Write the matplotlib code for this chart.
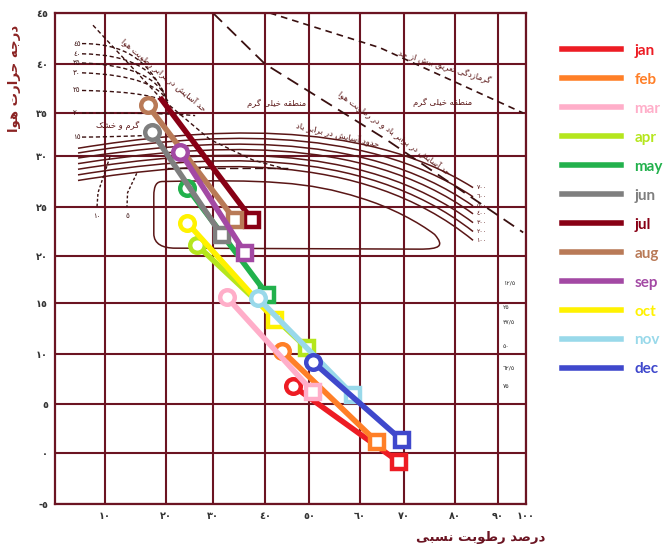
import numpy as np
import matplotlib
matplotlib.use('Agg')
import matplotlib.pyplot as plt
from matplotlib.path import Path
from matplotlib.patches import PathPatch
from matplotlib.lines import Line2D

# ---------------- data ----------------
MONTHS = ['jan', 'feb', 'mar', 'apr', 'may', 'jun', 'jul', 'aug', 'sep', 'oct', 'nov', 'dec']
COLORS = ['#ED1C24', '#FF7F27', '#FFAEC9', '#B5E61D', '#22B14C', '#7F7F7F',
          '#880015', '#B97A57', '#A349A4', '#FFF200', '#99D9EA', '#3F48CC']
RH_START = [46.4, 43.9, 32.7, 26.6, 24.5, 17.7, 19.0, 17.0, 23.0, 24.5, 38.7, 50.8]
T_START = [6.8, 10.3, 15.6, 21.1, 26.9, 32.8, 36.6, 35.8, 30.5, 23.4, 15.5, 9.2]
RH_END = [68.9, 63.9, 50.8, 49.5, 40.5, 31.7, 37.5, 34.2, 36.2, 42.3, 58.6, 69.5]
T_END = [-0.9, 1.1, 6.2, 10.6, 15.9, 22.1, 23.7, 23.7, 20.3, 13.3, 5.9, 1.3]
HAS_START_MARK = [True, True, True, True, True, True, False, True, True, True, True, True]

RH_TICKS = [0, 10, 20, 30, 40, 50, 60, 70, 80, 90, 100]
T_TICKS = [-5, 0, 5, 10, 15, 20, 25, 30, 35, 40, 45]
# the scanned chart grid is not evenly spaced: positions of its grid lines
SCAN_X = [55, 105, 166, 213, 265, 309, 360, 404, 455, 498, 526]
SCAN_Y = [41, 92, 141, 191, 242, 289, 338, 389, 432, 481, 532]

# wind-speed curves (RH, T control points of each curve)
WIND_LABELS = [700, 600, 500, 400, 300, 200, 100]
WIND_RH = [4.6, 27.2, 60.0, 84.2]
WIND_T0 = [30.9, 30.35, 29.8, 29.25, 28.7, 28.15, 27.6]
WIND_T1 = [33.2, 32.6, 31.9, 31.3, 30.7, 30.1, 29.5]
WIND_T2 = [34.6, 34.0, 33.4, 32.8, 32.1, 31.5, 30.9]
WIND_T3 = [26.9, 26.0, 25.1, 24.3, 23.4, 22.5, 21.6]

# solar radiation curves
RAD_LABELS = [45, 40, 35, 30, 25, 20, 15]
RAD_CURVES = [
    [(5.4, 42.0), (13.0, 42.0), (17.0, 40.5), (19.8, 36.8)],
    [(5.4, 41.0), (14.0, 40.9), (18.0, 39.6), (20.0, 36.6)],
    [(5.4, 40.1), (14.6, 39.9), (18.5, 38.6), (20.2, 36.4)],
    [(5.4, 39.1), (15.0, 38.9), (18.8, 37.8), (20.4, 36.2)],
    [(5.4, 37.3), (15.0, 37.2), (18.5, 36.7), (20.6, 36.0)],
    [(5.4, 35.0), (12.0, 35.0), (20.0, 35.0), (26.2, 34.7)],
    [(5.4, 32.2), (9.0, 32.2), (14.0, 32.3), (17.4, 32.4)],
]

COMFORT = [(19.5, 27.5), (40, 27.7), (50, 27.5), (60, 25.9),
           (67, 25.0), (73, 23.4), (76, 22.2),
           (78, 21.0), (77, 20.7), (73, 20.7),
           (22, 20.8),
           (19.5, 20.8), (18, 21.2), (18, 22.3),
           (18, 26.0),
           (18, 27.2), (18.5, 27.5), (19.5, 27.5)]
COMFORT_CODES = [Path.MOVETO, Path.CURVE4, Path.CURVE4, Path.CURVE4,
                 Path.CURVE4, Path.CURVE4, Path.CURVE4,
                 Path.CURVE4, Path.CURVE4, Path.CURVE4,
                 Path.LINETO,
                 Path.CURVE4, Path.CURVE4, Path.CURVE4,
                 Path.LINETO,
                 Path.CURVE4, Path.CURVE4, Path.CURVE4]

LINE_A = [(30, 45), (40, 40), (66, 31.9), (99, 22.4)]
LINE_B = [(41.1, 45), (64.5, 41.6), (99, 35)]
LINE_D = [(7.6, 43.8), (19.0, 36.6), (29.4, 31.9), (37.7, 29.6), (45.7, 28.6)]
LINE_H = [(20.2, 28.8), (45.7, 28.8)]
LINE_10 = [(10.8, 29.9), (8.6, 26.4), (8.4, 25.0)]
LINE_5 = [(15.2, 28.3), (13.7, 26.4), (13.6, 25.0)]
VAPOR_LABELS = ['١٢/٥', '٢٥', '٣٧/٥', '٥٠', '٦٢/٥', '٧٥']
VAPOR_T = [17.1, 14.6, 13.1, 10.7, 8.6, 6.7]

# ---------------- Arabic shaping helper ----------------
AR = {
    'ا': (0xFE8D, 0xFE8E, None, None), 'آ': (0xFE81, 0xFE82, None, None),
    'ب': (0xFE8F, 0xFE90, 0xFE91, 0xFE92), 'پ': (0xFB56, 0xFB57, 0xFB58, 0xFB59),
    'ت': (0xFE95, 0xFE96, 0xFE97, 0xFE98), 'ج': (0xFE9D, 0xFE9E, 0xFE9F, 0xFEA0),
    'ح': (0xFEA1, 0xFEA2, 0xFEA3, 0xFEA4), 'خ': (0xFEA5, 0xFEA6, 0xFEA7, 0xFEA8),
    'د': (0xFEA9, 0xFEAA, None, None), 'ر': (0xFEAD, 0xFEAE, None, None),
    'ز': (0xFEAF, 0xFEB0, None, None), 'س': (0xFEB1, 0xFEB2, 0xFEB3, 0xFEB4),
    'ش': (0xFEB5, 0xFEB6, 0xFEB7, 0xFEB8), 'ص': (0xFEB9, 0xFEBA, 0xFEBB, 0xFEBC),
    'ط': (0xFEC1, 0xFEC2, 0xFEC3, 0xFEC4), 'ع': (0xFEC9, 0xFECA, 0xFECB, 0xFECC),
    'ف': (0xFED1, 0xFED2, 0xFED3, 0xFED4), 'ق': (0xFED5, 0xFED6, 0xFED7, 0xFED8),
    'ک': (0xFB8E, 0xFB8F, 0xFB90, 0xFB91), 'گ': (0xFB92, 0xFB93, 0xFB94, 0xFB95),
    'ل': (0xFEDD, 0xFEDE, 0xFEDF, 0xFEE0), 'م': (0xFEE1, 0xFEE2, 0xFEE3, 0xFEE4),
    'ن': (0xFEE5, 0xFEE6, 0xFEE7, 0xFEE8), 'و': (0xFEED, 0xFEEE, None, None),
    'ه': (0xFEE9, 0xFEEA, 0xFEEB, 0xFEEC), 'ی': (0xFBFC, 0xFBFD, 0xFBFE, 0xFBFF),
}


def shape(text):
    chars = list(text)
    n = len(chars)
    res = []

    def joins_next(c):
        f = AR.get(c)
        return f is not None and f[2] is not None

    i = 0
    while i < n:
        c = chars[i]
        if c == '\u200c':
            i += 1
            continue
        if c not in AR:
            res.append(c)
            i += 1
            continue
        prev = chars[i - 1] if i > 0 else None
        jp = prev is not None and joins_next(prev)
        if c == 'ل' and i + 1 < n and chars[i + 1] in ('ا', 'آ'):
            lig = {'ا': (0xFEFB, 0xFEFC), 'آ': (0xFEF5, 0xFEF6)}[chars[i + 1]]
            res.append(chr(lig[1] if jp else lig[0]))
            i += 2
            continue
        nxt = chars[i + 1] if i + 1 < n else None
        jn = joins_next(c) and nxt in AR
        f = AR[c]
        if jp and jn:
            g = f[3]
        elif jp:
            g = f[1]
        elif jn:
            g = f[2]
        else:
            g = f[0]
        res.append(chr(g))
        i += 1
    return ''.join(reversed(res))


def ar_num(v):
    return str(v).translate(str.maketrans('0123456789', '٠١٢٣٤٥٦٧٨٩'))


# ---------------- figure ----------------
GRID = '#6b1422'
INK = '#5a1616'
W, H = 671, 545
fig = plt.figure(figsize=(W / 100, H / 100), dpi=100)
fig.patch.set_facecolor('white')
ax = fig.add_axes([55 / W, 41 / H, 471 / W, 491 / H])

ax.set_xscale('function', functions=(lambda v: np.interp(v, RH_TICKS, SCAN_X),
                                     lambda p: np.interp(p, SCAN_X, RH_TICKS)))
ax.set_yscale('function', functions=(lambda v: np.interp(v, T_TICKS, SCAN_Y),
                                     lambda p: np.interp(p, SCAN_Y, T_TICKS)))
ax.set_xlim(0, 100)
ax.set_ylim(-5, 45)
ax.set_xticks(RH_TICKS[1:])
ax.set_xticklabels([ar_num(v) for v in RH_TICKS[1:]])
ax.set_yticks(T_TICKS)
ax.set_yticklabels([('-' + ar_num(-v)) if v < 0 else ar_num(v) for v in T_TICKS])
ax.minorticks_off()
ax.tick_params(length=0, pad=5, labelsize=7, labelcolor='#333333')
for lab in ax.get_xticklabels() + ax.get_yticklabels():
    lab.set_fontweight('bold')
ax.grid(True, color=GRID, lw=1.5, zorder=0)
ax.set_axisbelow(True)
for s in ax.spines.values():
    s.set_color(GRID)
    s.set_linewidth(1.6)

# ----- background chart -----
for i in range(len(WIND_LABELS)):
    verts = list(zip(WIND_RH, [WIND_T0[i], WIND_T1[i], WIND_T2[i], WIND_T3[i]]))
    p = Path(verts, [Path.MOVETO, Path.CURVE4, Path.CURVE4, Path.CURVE4])
    ax.add_patch(PathPatch(p, fill=False, ec=INK, lw=1.1, zorder=2))
    ax.text(WIND_RH[-1] + 0.8, WIND_T3[i], ar_num(WIND_LABELS[i]), fontsize=4.5,
            color=INK, va='center', ha='left', zorder=2)

ax.add_patch(PathPatch(Path(COMFORT, COMFORT_CODES), fill=False, ec=INK, lw=1.1, zorder=2))

for lab, verts in zip(RAD_LABELS, RAD_CURVES):
    p = Path(verts, [Path.MOVETO, Path.CURVE4, Path.CURVE4, Path.CURVE4])
    ax.add_patch(PathPatch(p, fill=False, ec='#3a1010', lw=1.0, ls=(0, (3, 2)), zorder=2))
    ax.text(verts[0][0] - 0.3, verts[0][1], ar_num(lab), fontsize=5, color='#3a1010',
            va='center', ha='right', zorder=2)

for pts, dash, lw in [(LINE_A, (0, (7, 4)), 1.3), (LINE_B, (0, (4, 3)), 1.2),
                      (LINE_D, (0, (3, 2)), 1.0), (LINE_H, (0, (6, 3)), 1.0),
                      (LINE_10, (0, (2, 1.5)), 1.0), (LINE_5, (0, (2, 1.5)), 1.0)]:
    xs, ys = zip(*pts)
    ax.plot(xs, ys, color='#3a1010', lw=lw, ls=dash, zorder=2)

ax.text(LINE_10[-1][0], LINE_10[-1][1] - 0.6, ar_num(10), fontsize=5, color='#3a1010',
        ha='center', va='top')
ax.text(LINE_5[-1][0], LINE_5[-1][1] - 0.6, ar_num(5), fontsize=5, color='#3a1010',
        ha='center', va='top')

for lab, t in zip(VAPOR_LABELS, VAPOR_T):
    ax.text(91.8, t, lab, fontsize=4.5, color='#333333', ha='left', va='center')

TXT = dict(color='#5a1616', fontsize=6, ha='center', va='center', zorder=3,
           rotation_mode='anchor', family=['DejaVu Sans'])
ax.text(42.7, 36.0, shape('منطقه خیلی گرم'), **TXT)
ax.text(77.6, 36.1, shape('منطقه خیلی گرم'), **TXT)
ax.text(78.0, 39.7, shape('گرمازدگی تعریق بیش از حد'), rotation=-17, **TXT)
ax.text(67.7, 32.6, shape('حد آسایش در برابر باد و در رطوبت هوا'), rotation=-36, **TXT)
ax.text(55.5, 32.4, shape('حدود آسایش در برابر باد'), rotation=-13, **TXT)
ax.text(19.5, 38.8, shape('حد آسایش در برابر رطوبت هوا'), rotation=-40, **TXT)
ax.text(12.1, 33.6, shape('گرم و خشک'), **TXT)

# ----- monthly lines -----
for i, m in enumerate(MONTHS):
    c = COLORS[i]
    ax.plot([RH_START[i], RH_END[i]], [T_START[i], T_END[i]], color=c, lw=4,
            solid_capstyle='butt', zorder=5 + i)
    if HAS_START_MARK[i]:
        ax.plot([RH_START[i]], [T_START[i]], marker='o', ms=10.5, mew=3.2, mec=c,
                mfc='white', ls='none', zorder=5 + i)
    ax.plot([RH_END[i]], [T_END[i]], marker='s', ms=10.5, mew=3.2, mec=c,
            mfc='white', ls='none', zorder=5 + i)

# ----- axis titles -----
fig.text(15 / W, 1 - 78 / H, shape('درجه حرارت هوا'), rotation=90, ha='center', va='center',
         fontsize=9.5, fontweight='bold', color='#8b2323', family=['DejaVu Sans'])
fig.text(545 / W, 1 - 537 / H, shape('درصد رطوبت نسبی'), ha='right', va='center',
         fontsize=9.5, fontweight='bold', color='#6b1422', family=['DejaVu Sans'])

# ----- legend -----
handles = [Line2D([0], [0], color=c, lw=4) for c in COLORS]
leg = fig.legend(handles, MONTHS, loc='upper left', bbox_to_anchor=(548 / W, 1 - 30 / H),
                 frameon=False, labelcolor='linecolor', handlelength=3.9,
                 handletextpad=0.85, labelspacing=0.98,
                 prop=dict(family='Lato', weight='bold', size=11))

fig.savefig('out.png', dpi=100, facecolor='white')
